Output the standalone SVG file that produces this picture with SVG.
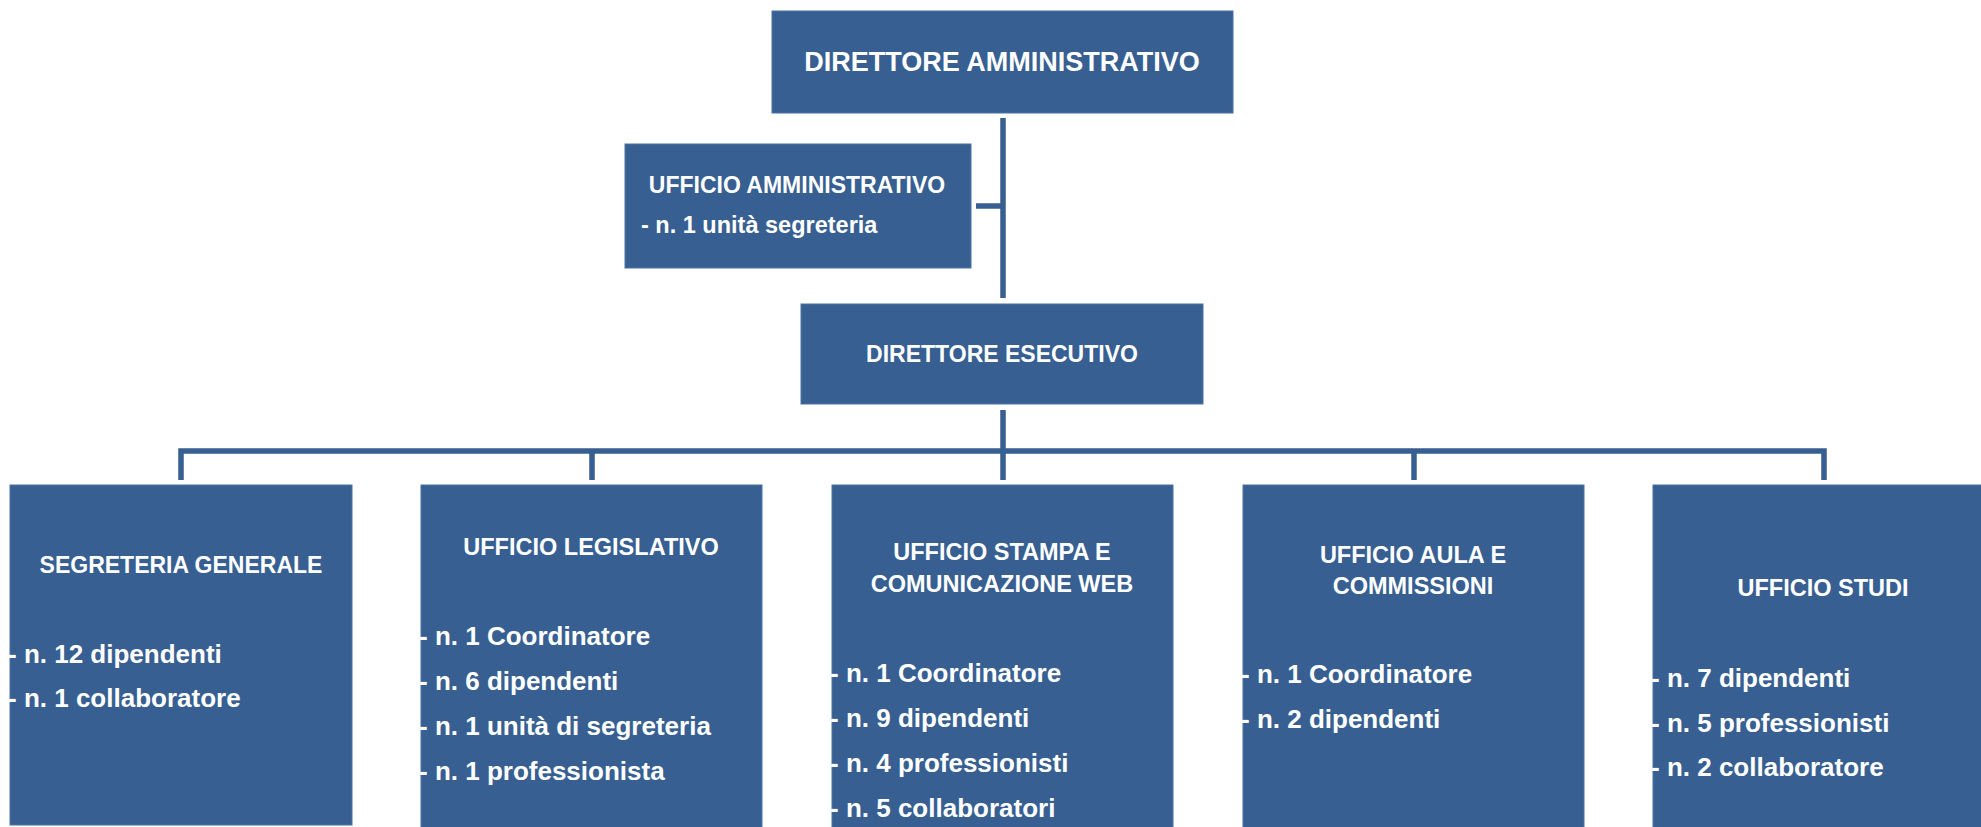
<svg xmlns="http://www.w3.org/2000/svg" width="1981" height="827" viewBox="0 0 1981 827">
<style>
.box{fill:#375F91;stroke:#4A72A6;stroke-width:1}
.h{font-family:"Liberation Sans",Arial,sans-serif;font-weight:bold;fill:#FFFFFF;text-anchor:middle}
.i{font-family:"Liberation Sans",Arial,sans-serif;font-weight:bold;fill:#FFFFFF;font-size:26px}
.c{fill:none;stroke:#375F91;stroke-width:5.5;stroke-linecap:butt;stroke-linejoin:miter}
</style>
<rect width="1981" height="827" fill="#FFFFFF"/>
<g id="connectors">
<path class="c" d="M1003 118 V298"/>
<path class="c" d="M976 206 H1003"/>
<path class="c" d="M1003 410 V480"/>
<path class="c" d="M181 480 V451 H1824 V480"/>
<path class="c" d="M592 451 V480"/>
<path class="c" d="M1414 451 V480"/>
</g>
<g id="direttore-amministrativo">
<rect class="box" x="772" y="11" width="461" height="102"/>
<text class="h" x="1002" y="71" font-size="27">DIRETTORE AMMINISTRATIVO</text>
</g>
<g id="ufficio-amministrativo">
<rect class="box" x="625" y="144" width="346" height="124"/>
<text class="h" x="797" y="193" font-size="23">UFFICIO AMMINISTRATIVO</text>
<text class="i" x="641" y="233" style="font-size:23.5px">- n. 1 unità segreteria</text>
</g>
<g id="direttore-esecutivo">
<rect class="box" x="801" y="304" width="402" height="100"/>
<text class="h" x="1002" y="362" font-size="23">DIRETTORE ESECUTIVO</text>
</g>
<g id="segreteria-generale">
<rect class="box" x="10" y="485" width="342" height="340"/>
<text class="h" x="181" y="573" font-size="23">SEGRETERIA GENERALE</text>
<text class="i" x="8" y="663">- n. 12 dipendenti</text>
<text class="i" x="8" y="707">- n. 1 collaboratore</text>
</g>
<g id="ufficio-legislativo">
<rect class="box" x="421" y="485" width="341" height="345"/>
<text class="h" x="591" y="555" font-size="23.5">UFFICIO LEGISLATIVO</text>
<text class="i" x="419" y="645">- n. 1 Coordinatore</text>
<text class="i" x="419" y="690">- n. 6 dipendenti</text>
<text class="i" x="419" y="735">- n. 1 unità di segreteria</text>
<text class="i" x="419" y="780">- n. 1 professionista</text>
</g>
<g id="ufficio-stampa">
<rect class="box" x="832" y="485" width="341" height="345"/>
<text class="h" x="1002" y="560" font-size="23.5">UFFICIO STAMPA E</text>
<text class="h" x="1002" y="592" font-size="23.5">COMUNICAZIONE WEB</text>
<text class="i" x="830" y="682">- n. 1 Coordinatore</text>
<text class="i" x="830" y="727">- n. 9 dipendenti</text>
<text class="i" x="830" y="772">- n. 4 professionisti</text>
<text class="i" x="830" y="817">- n. 5 collaboratori</text>
</g>
<g id="ufficio-aula">
<rect class="box" x="1243" y="485" width="341" height="345"/>
<text class="h" x="1413" y="563" font-size="23.5">UFFICIO AULA E</text>
<text class="h" x="1413" y="594" font-size="23.5">COMMISSIONI</text>
<text class="i" x="1241" y="683">- n. 1 Coordinatore</text>
<text class="i" x="1241" y="728">- n. 2 dipendenti</text>
</g>
<g id="ufficio-studi">
<rect class="box" x="1653" y="485" width="341" height="345"/>
<text class="h" x="1823" y="596" font-size="23.5">UFFICIO STUDI</text>
<text class="i" x="1651" y="687">- n. 7 dipendenti</text>
<text class="i" x="1651" y="732">- n. 5 professionisti</text>
<text class="i" x="1651" y="776">- n. 2 collaboratore</text>
</g>
</svg>
